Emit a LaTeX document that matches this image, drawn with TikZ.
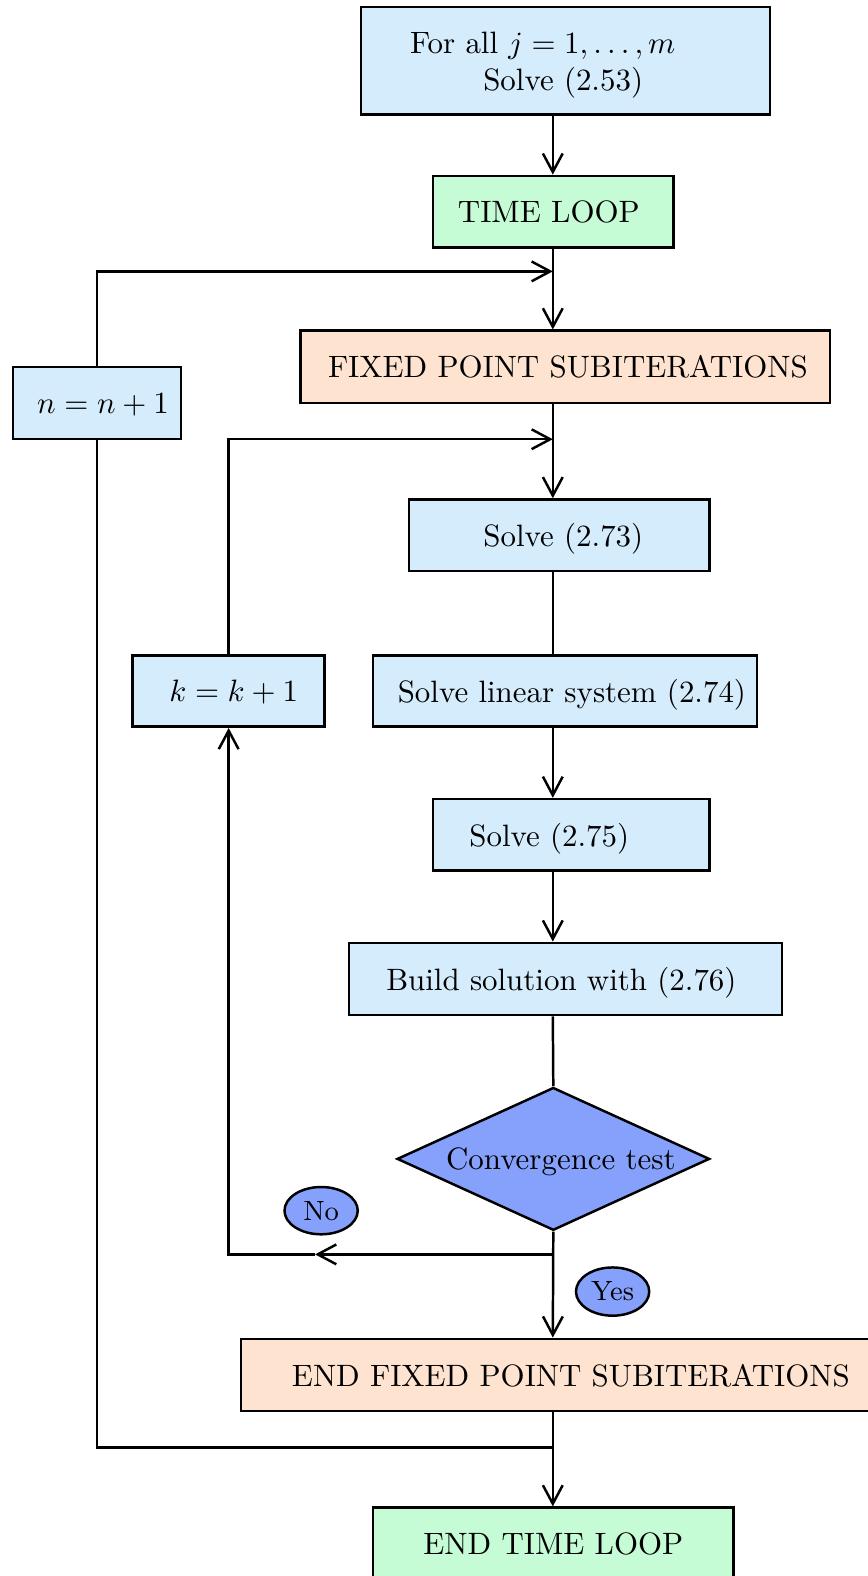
\documentclass[tikz,border=0pt]{standalone}
\usetikzlibrary{shapes.geometric,arrows.meta}
\definecolor{stepblue}{RGB}{213,236,252}
\definecolor{loopgreen}{RGB}{197,252,214}
\definecolor{fpsorange}{RGB}{253,227,208}
\definecolor{testblue}{RGB}{134,161,252}
\begin{document}
\begin{tikzpicture}[x=0.3251pt,y=-0.3251pt,line width=0.8pt,
  box/.style={draw,inner sep=0pt,text depth=0pt,fill=stepblue},
  loopbox/.style={box,fill=loopgreen},
  fpbox/.style={box,fill=fpsorange},
  tag/.style={ellipse,draw,fill=testblue,inner sep=0pt,minimum width=23.7pt,font=\small},
  arr/.style={-{Straight Barb[length=6pt,width=6.4pt]}}]
\useasboundingbox (0,0) rectangle (863,1568);

% process boxes
\node[box,text depth=11.6pt,minimum width=132.3pt,minimum height=34.8pt,text width=100.5pt,align=left]
  (init) at (562.5,60.5) {For all $j=1,\ldots,m$\\\hspace*{23.7pt}Solve (2.53)};
\node[loopbox,minimum width=77.7pt,minimum height=23.1pt] (time) at (550.5,210.5) {TIME LOOP\hspace*{2.9pt}};
\node[fpbox,minimum width=171.3pt,minimum height=23.4pt] (fixed) at (562.5,365) {\hspace*{1.6pt}FIXED POINT SUBITERATIONS};
\node[box,minimum width=54.3pt,minimum height=23.4pt] (nn) at (96.5,401) {\hspace*{3.9pt}$n=n+1$};
\node[box,minimum width=97.2pt,minimum height=23.1pt] (s73) at (556.5,532.5) {\hspace*{2.6pt}Solve (2.73)};
\node[box,minimum width=62.1pt,minimum height=23.1pt] (kk) at (227.5,687.5) {\hspace*{3.25pt}$k=k+1$};
\node[box,minimum width=124.2pt,minimum height=23.1pt] (s74) at (562,687.5) {\hspace*{4.55pt}Solve linear system (2.74)};
\node[box,minimum width=89.4pt,minimum height=23.1pt] (s75) at (568.5,830.5) {Solve (2.75)\hspace*{14.3pt}};
\node[box,minimum width=140.1pt,minimum height=23.4pt] (s76) at (562.5,974) {Build solution with (2.76)\hspace*{2.6pt}};
\node[diamond,draw,fill=testblue,inner sep=0pt,text depth=0pt,minimum width=101.1pt,minimum height=46.2pt]
  (conv) at (550.5,1153) {\makebox[0pt]{\hspace*{4.9pt}Convergence test}};
\node[tag,minimum height=15.3pt] (no) at (319.5,1204.5) {No};
\node[tag,minimum height=15.6pt] (yes) at (609.5,1285) {Yes};
\node[fpbox,minimum width=213.3pt,minimum height=23.4pt] (efp) at (568,1368) {END FIXED POINT SUBITERATIONS};
\node[loopbox,minimum width=116.7pt,minimum height=23.1pt] (etl) at (550.5,1535.5) {END TIME LOOP};

% junction points on the main axis
\coordinate (axis) at (550,0);
\coordinate (topin) at (550,270);
\coordinate (midin) at (550,437);
\coordinate (split) at (550,1248);
\coordinate (notip) at (313.5,1248);
\coordinate (back) at (550,1440);

% main flow
\draw[arr] (init.south -| axis) -- (time.north -| axis);
\draw[arr] (time.south -| axis) -- (fixed.north -| axis);
\draw[arr] (fixed.south -| axis) -- (s73.north -| axis);
\draw (s73.south -| axis) -- (s74.north -| axis);
\draw[arr] (s74.south -| axis) -- (s75.north -| axis);
\draw[arr] (s75.south -| axis) -- (s76.north -| axis);
\draw (s76.south -| axis) -- (conv.north);
\draw[arr] (conv.south) -- (efp.north -| axis);
\draw[arr] (efp.south -| axis) -- (etl.north -| axis);

% inner loop (not converged)
\draw[arr] (split) -- (notip);
\draw[arr] (notip) -| (kk.south);
\draw[arr] (kk.north) |- (midin);

% outer time loop
\draw (back) -| (nn.south);
\draw[arr] (nn.north) |- (topin);
\end{tikzpicture}
\end{document}
